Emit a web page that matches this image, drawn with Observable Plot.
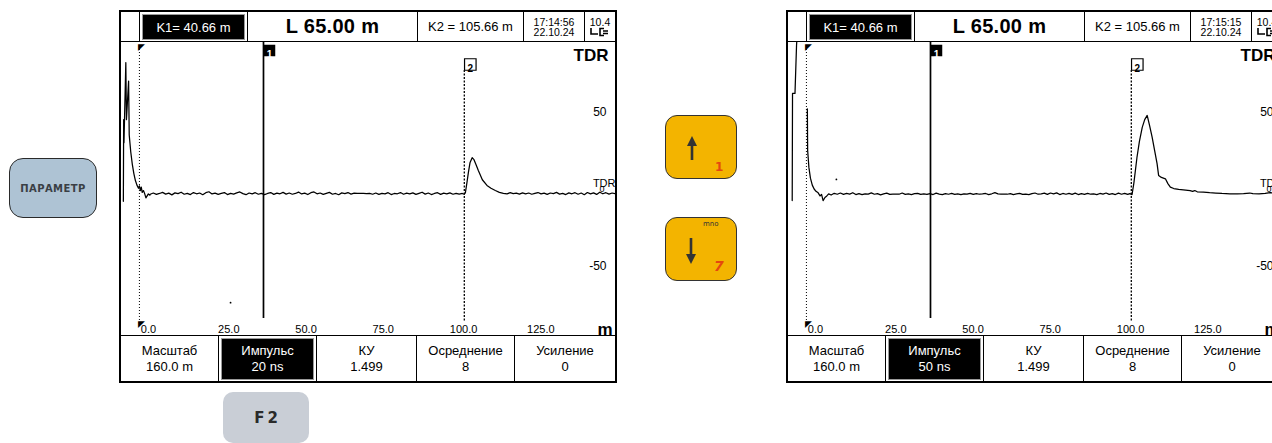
<!DOCTYPE html>
<html><head><meta charset="utf-8">
<script src="https://cdn.jsdelivr.net/npm/d3@7"></script>
<script src="https://cdn.jsdelivr.net/npm/@observablehq/plot@0.6"></script>
<style>
html,body{margin:0;padding:0;background:#fff;}
#root{position:relative;width:1272px;height:443px;overflow:hidden;background:#fff;font-family:"Liberation Sans",Arial,sans-serif;color:#000;}
.panel{position:absolute;top:10px;width:498px;height:373px;box-sizing:border-box;border:2px solid #000;background:#fff;}
.hdr{position:absolute;left:0;top:0;width:494px;height:30px;box-sizing:border-box;border-bottom:1px solid #000;display:flex;}
.c{box-sizing:border-box;border-right:1px solid #000;height:100%;display:flex;align-items:center;justify-content:center;position:relative;text-align:center;}
.c:last-child{border-right:none;}
.act{position:absolute;left:2px;right:2px;top:2px;bottom:1px;background:#000;border:1px solid #9a9a9a;color:#fff;display:flex;align-items:center;justify-content:center;flex-direction:column;}
.plotbox{position:absolute;left:0;top:30px;width:494px;height:293px;}
.menu{position:absolute;left:0;top:323px;width:494px;height:46px;box-sizing:border-box;border-top:1px solid #000;display:flex;}
.menu .c{flex-direction:column;font-size:13px;line-height:16px;}
.btn{position:absolute;box-sizing:border-box;}
</style>
</head><body><div id="root"></div>
<script>
// ---- data ----
const panelsTitle = ["K1= 40.66 m", "L 65.00 m", "K2 = 105.66 m"];
const times20 = ["17:14:56", "22.10.24"];
const times50 = ["17:15:15", "22.10.24"];
const battery = "10.4";
const menuTitles = ["Масштаб", "Импульс", "КУ", "Осреднение", "Усиление"];
const menuValues20 = ["160.0 m", "20 ns", "1.499", "8", "0"];
const menuValues50 = ["160.0 m", "50 ns", "1.499", "8", "0"];
const xTicks = [0, 25, 50, 75, 100, 125];
const xTickLabels = ["0.0", "25.0", "50.0", "75.0", "100.0", "125.0"];
const yTicks = [50, -50];
const yZero = [0];
const cursorPositions = [40.66, 105.66];
const cursorNames = ["1", "2"];
const startMarker = [0.5];

// TDR trace, pulse 20 ns: [distance m, amplitude]
const trace20 = [
 [-4.7,-8],[-4.6,45],[-4.5,30],[-3.9,82],[-3.7,45],[-3.0,70],[-2.8,35],[-2.3,24],[-1.8,16],[-1.3,10],
 [-0.8,5.5],[-0.3,2.5],[0.2,0.5],[0.5,2.0],[0.8,-1.0],[1.1,1.2],[1.4,-2.2],[1.8,-1.0],[2.2,-3.0],[2.6,-5.8],
 [3.0,-4.5],[3.4,-3.2],[3.9,-4.0],
 [4,-3.4],[5,-2.6],[6,-3.5],[7,-2.9],[8,-2.2],[9,-3.3],[10,-2.7],[11,-3.8],[12,-2.5],[13,-3.0],[14,-2.1],
 [15,-3.4],[16,-2.8],[17,-3.6],[18,-2.3],[19,-3.1],[20,-2.6],[21,-3.7],[22,-2.4],[23,-1.8],[24,-3.2],
 [25,-2.7],[26,-3.5],[27,-2.9],[28,-2.3],[29,-3.6],[30,-2.8],[31,-3.3],[32,-2.5],[33,-1.9],[34,-3.0],
 [35,-3.7],[36,-2.6],[37,-3.2],[38,-2.4],[39,-3.4],[40,-2.8],[41,-3.6],[42,-2.9],[43,-2.3],[44,-3.5],
 [45,-2.7],[46,-3.1],[47,-2.2],[48,-3.3],[49,-2.6],[50,-3.4],[51,-2.9],[52,-2.0],[53,-3.2],[54,-2.7],
 [55,-3.6],[56,-2.4],[57,-1.9],[58,-3.1],[59,-2.6],[60,-3.5],[61,-2.8],[62,-2.2],[63,-3.4],[64,-2.9],
 [65,-3.7],[66,-2.5],[67,-3.0],[68,-2.3],[69,-3.3],[70,-2.7],[71,-2.9],[72,-2.9],[73,-2.9],[74,-3.0],
 [75,-2.9],[76,-3.4],[77,-2.6],[78,-3.5],[79,-2.8],[80,-3.2],[81,-2.4],[82,-3.6],[83,-2.9],[84,-3.1],
 [85,-2.3],[86,-3.4],[87,-2.7],[88,-3.2],[89,-2.5],[90,-3.5],[91,-2.8],[92,-2.1],[93,-3.3],[94,-2.6],
 [95,-3.6],[96,-2.9],[97,-2.4],[98,-3.5],[99,-2.7],[100,-3.2],[101,-2.5],[102,-3.4],[103,-2.8],[104,-3.3],
 [105,-2.9],[105.6,-3.4],
 [106.0,-2.5],[106.5,4],[107.0,11],[107.5,17],[108.2,20.3],[108.8,19],[109.5,15.5],[110.2,12],[111.5,6],
 [113.0,2.3],[114.3,0.5],[115.7,-1.0],[117.0,-2.2],[118.3,-2.9],
 [119.5,-3.2],[120.5,-2.4],[121.5,-3.0],[122.5,-2.7],[123.5,-3.3],[124.5,-2.5],[125.5,-3.1],[126.5,-2.6],
 [127.5,-3.4],[128.5,-2.8],[129.5,-2.3],[130.5,-3.2],[131.5,-2.7],[132.5,-3.5],[133.5,-2.6],[134.5,-3.0],
 [135.5,-2.2],[136.5,-3.3],[137.5,-2.8],[138.5,-3.6],[139.5,-2.5],[140.5,-3.1],[141.5,-2.4],[142.5,-3.4],
 [143.5,-2.6],[144.5,-3.7],[145.5,-2.3],[146.5,-3.2],[147.5,-2.5],[148.5,-3.5],[149.5,-2.1],[150.5,-3.1],
 [151.5,-2.4],[152.5,-3.3],[153.5,-2.6],[154.6,-3.0]
];
// TDR trace, pulse 50 ns (NaN = trace leaves the screen)
const trace50 = [
 [-4.1,-7.5],[-4.0,62],[-3.2,62],[-2.7,93],[-2.5,100],[0.0,NaN],[0.8,52],[0.9,25],[1.3,14],[1.8,7],
 [2.4,2.5],[3.0,0],[3.6,-1.5],[4.3,-2.5],[4.9,-4.5],[5.4,-3.5],[5.9,-7.5],[6.5,-5.5],[7.1,-4.5],[7.7,-3.2],
 [8.5,-3.9],[9.5,-2.8],[10.5,-3.4],[11.5,-2.6],[12.5,-3.5],[13.5,-2.9],[14.5,-3.3],[15.5,-2.4],[16.5,-3.6],
 [17.5,-3.0],[18.5,-3.7],[19.5,-3.1],[20.5,-3.3],[21.5,-2.5],[22.5,-3.4],[23.5,-3.0],[24.5,-3.8],[25.5,-3.2],
 [26.5,-2.7],[27.5,-3.5],[28.5,-3.4],[29.5,-3.3],[30.5,-3.4],[31.5,-2.6],[32.5,-3.5],[33.5,-3.1],[34.5,-3.6],
 [35.5,-3.0],[36.5,-2.8],[37.5,-3.5],[38.5,-3.2],[39.5,-3.5],[40.5,-3.0],[41.5,-3.6],[42.5,-2.7],[43.5,-3.3],
 [44.5,-3.6],[45.5,-3.0],[46.5,-3.4],[47.5,-2.9],[48.5,-3.5],[49.5,-3.1],[50.5,-3.6],[51.5,-3.2],[52.5,-3.3],
 [53.5,-2.8],[54.5,-3.5],[55.5,-3.0],[56.5,-3.4],[57.5,-3.2],[58.5,-2.9],[59.5,-3.6],[60.5,-3.1],[61.5,-2.4],
 [62.5,-3.2],[63.5,-3.4],[64.5,-3.3],[65.5,-3.4],[66.5,-3.0],[67.5,-3.6],[68.5,-3.2],[69.5,-2.8],[70.5,-3.5],
 [71.5,-3.3],[72.5,-3.6],[73.5,-3.0],[74.5,-2.6],[75.5,-3.4],[76.5,-3.1],[77.5,-2.7],[78.5,-3.5],[79.5,-2.6],
 [80.5,-3.2],[81.5,-2.5],[82.5,-3.6],[83.5,-2.9],[84.5,-3.4],[85.5,-2.8],[86.5,-3.5],[87.5,-2.7],[88.5,-3.6],
 [89.5,-3.0],[90.5,-3.5],[91.5,-2.8],[92.5,-3.4],[93.5,-3.1],[94.5,-3.6],[95.5,-2.9],[96.5,-3.3],[97.5,-2.6],
 [98.5,-3.5],[99.5,-3.0],[100.5,-3.6],[101.5,-2.7],[102.5,-3.4],[103.5,-2.8],[104.5,-3.5],[105.2,-3.0],[105.9,-3.6],
 [106.5,4],[107.5,20.6],[108.3,31],[109.2,40],[110.0,45],[110.8,47.7],[111.6,41],[112.4,33.6],[113.2,25],
 [114.0,16.5],[114.5,8.8],[115.4,7.5],[116.7,6.6],[117.5,3.5],[118.3,1.2],[119.4,0.3],[121.0,-0.3],[122.5,-0.5],
 [124.7,-1.0],[125.5,-1.5],[126.2,-1.0],[127.0,-1.8],[129.0,-2.0],[131.0,-2.4],[133.0,-2.6],[135.0,-2.9],
 [137.6,-3.1],[140.0,-3.1],[142.0,-3.0],[144.0,-2.6],[145.0,-3.0],[147.0,-3.1],[149.0,-2.9],[150.6,-2.3],
 [152.0,-2.9],[154.6,-3.0]
];
const artifacts20 = [[30.0,-73.7]];
const artifacts50 = [[10.2,6.2]];

// ---- drawing ----
const FONT = "'Liberation Sans', Arial, sans-serif";
function makePlot(trace, artifacts) {
  return Plot.plot({
    width: 494, height: 293, margin: 0,
    x: {domain: [-5.3, 154.6], axis: null},
    y: {domain: [-95, 95], axis: null},
    style: {fontFamily: FONT, background: "transparent", color: "#000", overflow: "hidden"},
    marks: [
      Plot.ruleX(startMarker, {x: d => d, stroke: "#000", strokeWidth: 1, strokeDasharray: "1,2", insetTop: 4, insetBottom: 12}),
      Plot.text(startMarker, {x: d => d, text: () => "◤", frameAnchor: "top", lineAnchor: "top", textAnchor: "start", dx: -1, dy: 1, fontSize: 9}),
      Plot.text(startMarker, {x: d => d, text: () => "◤", frameAnchor: "bottom", lineAnchor: "bottom", textAnchor: "start", dx: -1, dy: -9, fontSize: 9}),
      Plot.ruleX([cursorPositions[0]], {x: d => d, stroke: "#000", strokeWidth: 1.7, insetBottom: 17}),
      Plot.ruleX([cursorPositions[1]], {x: d => d, stroke: "#000", strokeWidth: 1.3, strokeDasharray: "2,1.5", insetTop: 28, insetBottom: 14}),
      Plot.line(trace, {x: d => d[0], y: d => d[1], stroke: "#000", strokeWidth: 1.25, clip: true}),
      Plot.dot(artifacts, {x: d => d[0], y: d => d[1], r: 0.9, fill: "#000"}),
      Plot.dot([cursorPositions[0]], {x: d => d, frameAnchor: "top", dx: 6, dy: 8, symbol: "square", r: 6.5, fill: "#000"}),
      Plot.text([cursorPositions[0]], {x: d => d, text: () => cursorNames[0], frameAnchor: "top", dx: 6, dy: 8.5, fill: "#fff", fontSize: 10, fontWeight: "bold"}),
      Plot.dot([cursorPositions[1]], {x: d => d, frameAnchor: "top", dx: 6, dy: 22, symbol: "square", r: 6.5, fill: "#fff", stroke: "#000", strokeWidth: 1.2}),
      Plot.text([cursorPositions[1]], {x: d => d, text: () => cursorNames[1], frameAnchor: "top", dx: 6, dy: 22.5, fill: "#000", fontSize: 10, fontWeight: "bold"}),
      Plot.text(xTicks, {x: d => d, text: (d, i) => xTickLabels[i], frameAnchor: "bottom", lineAnchor: "bottom", textAnchor: "start", dx: 3, dy: -3, fontSize: 11}),
      Plot.text(["m"], {text: d => d, frameAnchor: "bottom-right", lineAnchor: "bottom", textAnchor: "end", dx: -3, dy: -1, fontSize: 17, fontWeight: "bold"}),
      Plot.text(yTicks, {y: d => d, text: d => String(d), frameAnchor: "right", textAnchor: "end", dx: -9, fontSize: 12}),
      Plot.text(["TDR"], {text: d => d, frameAnchor: "top-right", lineAnchor: "top", textAnchor: "end", dx: -7, dy: 6, fontSize: 17, fontWeight: "bold"}),
      Plot.text(yZero, {y: d => d, text: () => "TDR", frameAnchor: "right", textAnchor: "end", dx: 0, dy: -6, fontSize: 11}),
      Plot.text(yZero, {y: d => d, text: d => String(d), frameAnchor: "right", textAnchor: "end", dx: -11, dy: 0, fontSize: 9})
    ]
  });
}

const plugSvg = '<svg width="22" height="10" viewBox="0 0 22 10"><path d="M2 1 V7 H9" fill="none" stroke="#000" stroke-width="1.6"/><path d="M15 1.5 H11 V8.5 H15" fill="none" stroke="#000" stroke-width="1.6"/><path d="M14 4 H19 M14 6.5 H19" stroke="#000" stroke-width="1.3"/></svg>';

function makePanel(left, times, menuValues, trace, artifacts) {
  const p = document.createElement("div");
  p.className = "panel";
  p.style.left = left + "px";
  const hdrW = [19, 108, 170, 106, 61, 30];
  const hdr = document.createElement("div");
  hdr.className = "hdr";
  hdrW.forEach((w, i) => {
    const c = document.createElement("div");
    c.className = "c";
    c.style.width = w + "px";
    if (i === 1) c.innerHTML = '<div class="act" style="font-size:13px">' + panelsTitle[0] + '</div>';
    if (i === 2) c.innerHTML = '<span style="font-size:20px;font-weight:bold;letter-spacing:0.3px">' + panelsTitle[1] + '</span>';
    if (i === 3) c.innerHTML = '<span style="font-size:13px">' + panelsTitle[2] + '</span>';
    if (i === 4) c.innerHTML = '<span style="font-size:10.5px;line-height:10px">' + times[0] + '<br>' + times[1] + '</span>';
    if (i === 5) c.innerHTML = '<span style="font-size:10.5px;line-height:10px;display:flex;flex-direction:column;align-items:center">' + battery + plugSvg + '</span>';
    hdr.appendChild(c);
  });
  p.appendChild(hdr);
  const pb = document.createElement("div");
  pb.className = "plotbox";
  pb.appendChild(makePlot(trace, artifacts));
  p.appendChild(pb);
  const menuW = [98, 98, 100, 98, 100];
  const menu = document.createElement("div");
  menu.className = "menu";
  menuW.forEach((w, i) => {
    const c = document.createElement("div");
    c.className = "c";
    c.style.width = w + "px";
    const inner = menuTitles[i] + '<br>' + menuValues[i];
    if (i === 1) c.innerHTML = '<div class="act" style="font-size:13px;line-height:16px;bottom:1px">' + inner + '</div>';
    else c.innerHTML = '<div>' + inner + '</div>';
    menu.appendChild(c);
  });
  p.appendChild(menu);
  return p;
}

const root = document.getElementById("root");
root.appendChild(makePanel(119, times20, menuValues20, trace20, artifacts20));
root.appendChild(makePanel(786, times50, menuValues50, trace50, artifacts50));

// side buttons
function btn(html, style) {
  const b = document.createElement("div");
  b.className = "btn";
  Object.assign(b.style, style);
  b.innerHTML = html;
  root.appendChild(b);
}
btn('<div style="position:absolute;left:0;right:0;top:0;bottom:0;display:flex;align-items:center;justify-content:center;font-family:\'DejaVu Sans\',sans-serif;font-weight:bold;font-size:10px;color:#3a3f45;letter-spacing:0.4px">ПАРАМЕТР</div>',
  {left: "9px", top: "158px", width: "88px", height: "60px", background: "#aec3d4", border: "1.5px solid #2a2a2a", borderRadius: "14px"});
btn('<svg width="72" height="64" style="position:absolute;left:-1.5px;top:-1.5px"><path d="M27 21 L22 31 L32 31 Z" fill="#333"/><rect x="25.7" y="29" width="2.6" height="16" fill="#333"/></svg>' +
    '<div style="position:absolute;left:49px;top:44px;font-family:\'DejaVu Sans\',sans-serif;font-weight:bold;font-size:12px;color:#e5470f">1</div>',
  {left: "665px", top: "115px", width: "72px", height: "64px", background: "#f3b400", border: "1.5px solid #333", borderRadius: "12px"});
btn('<svg width="72" height="64" style="position:absolute;left:-1.5px;top:-1.5px"><path d="M26 47 L21 37 L31 37 Z" fill="#333"/><rect x="24.7" y="21" width="2.6" height="17" fill="#333"/></svg>' +
    '<div style="position:absolute;left:48px;top:40px;font-family:\'DejaVu Sans\',sans-serif;font-weight:bold;font-style:italic;font-size:14px;color:#e5470f">7</div>' +
    '<div style="position:absolute;left:37px;top:2px;font-family:\'DejaVu Sans\',sans-serif;font-size:7px;color:#333">mno</div>',
  {left: "665px", top: "217px", width: "72px", height: "64px", background: "#f3b400", border: "1.5px solid #333", borderRadius: "12px"});
btn('<div style="position:absolute;left:0;right:0;top:0;bottom:0;display:flex;align-items:center;justify-content:center;font-family:\'DejaVu Sans\',sans-serif;font-weight:bold;font-size:15px;color:#2a2a2a;letter-spacing:3px;padding-left:3px">F2</div>',
  {left: "223px", top: "392px", width: "86px", height: "51px", background: "#c9ced6", borderRadius: "10px"});
</script>
</body></html>
